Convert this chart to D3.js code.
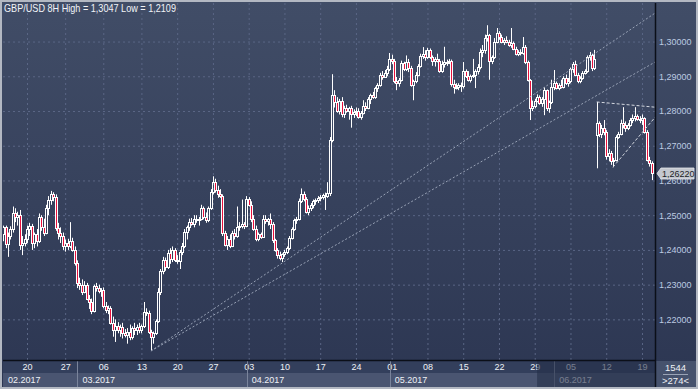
<!DOCTYPE html>
<html>
<head>
<meta charset="utf-8">
<script src="https://cdn.jsdelivr.net/npm/d3@7"></script>
<style>
  html, body { margin: 0; padding: 0; background: #2e3956; }
  svg { display: block; font-family: "Liberation Sans", Arial, sans-serif; }
</style>
</head>
<body>
<svg id="chart"></svg>
<script>
// GBP/USD 8H candles
const opens = [
  1.2445,1.2465,1.2418,1.2440,1.2460,1.2505,1.2495,1.2500,1.2415,1.2420,
  1.2430,1.2460,1.2470,1.2420,1.2445,1.2425,1.2495,1.2465,1.2450,1.2520,
  1.2545,1.2560,1.2552,1.2462,1.2448,1.2440,1.2410,1.2420,1.2410,1.2425,
  1.2400,1.2362,1.2305,1.2300,1.2280,1.2300,1.2260,1.2250,1.2225,1.2295,
  1.2290,1.2282,1.2285,1.2238,1.2228,1.2232,1.2190,1.2170,1.2182,1.2168,1.2178,
  1.2160,
  1.2155,1.2165,1.2150,1.2175,
  1.2170,1.2178,1.2168,1.2180,1.2222,1.2218,1.2165,1.2148,1.2160,1.2195,
  1.2280,1.2340,1.2370,1.2350,1.2390,1.2375,1.2400,1.2372,1.2368,1.2395,
  1.2410,1.2452,1.2465,1.2480,1.2475,1.2490,1.2485,1.2490,1.2520,1.2495,
  1.2485,1.2520,1.2568,1.2595,1.2572,1.2560,1.2556,1.2450,1.2415,1.2430,
  1.2412,1.2448,1.2440,1.2465,1.2470,1.2475,1.2470,1.2548,1.2530,1.2488,
  1.2460,1.2430,1.2445,1.2438,1.2490,1.2482,1.2488,1.2475,1.2428,1.2400,
  1.2385,1.2378,1.2388,1.2395,1.2405,1.2435,1.2460,1.2485,1.2490,1.2540,
  1.2560,1.2548,1.2510,1.2520,1.2528,1.2540,1.2545,
  1.2550,1.2552,
  1.2558,1.2555,1.2565,1.2716,1.2845,1.2825,1.2800,1.2830,1.2790,1.2810,
  1.2800,1.2808,1.2790,1.2798,1.2800,1.2782,1.2795,1.2815,1.2810,1.2835,
  1.2845,1.2840,1.2865,1.2875,1.2905,1.2898,1.2910,1.2922,
  1.2950,1.2945,1.2885,1.2880,1.2890,1.2938,1.2920,1.2940,1.2925,1.2875,1.2885,1.2905,1.2930,1.2958,1.2965,
  1.2955,1.2975,1.2955,1.2945,1.2950,1.2945,1.2915,1.2935,1.2940,1.2942,1.2945,1.2878,1.2870,1.2868,1.2875,
  1.2872,1.2915,1.2900,1.2890,1.2900,1.2905,1.2915,1.2928,1.2970,1.2975,1.3010,1.3018,1.2945,1.2955,1.3000,
  1.3025,1.3012,1.3000,1.3005,1.3000,1.2990,1.2995,1.2978,1.2965,1.2970,1.2968,1.2985,1.2940,1.2890,1.2810,
  1.2815,1.2830,1.2840,1.2822,1.2835,1.2860,1.2808,1.2825,1.2870,1.2880,1.2866,1.2875,1.2870,1.2895,1.2880,
  1.2885,1.2920,1.2935,1.2905,1.2885,1.2895,1.2910,1.2915,1.2955,1.2960,1.2925,
  1.2732,1.2765,1.2735,1.2750,
  1.2740,1.2670,1.2680,1.2655,1.2660,1.2725,1.2735,1.2765,1.2760,1.2750,1.2760,1.2775,1.2780,1.2785,1.2778,
  1.2775,1.2780,1.2740,1.2660,1.2650
];
const highs = [
  1.2470,1.2470,1.2450,1.2468,1.2525,1.2520,1.2510,1.2515,1.2440,1.2445,
  1.2470,1.2478,1.2475,1.2450,1.2460,1.2505,1.2500,1.2490,1.2530,1.2555,
  1.2570,1.2566,1.2560,1.2478,1.2465,1.2450,1.2430,1.2432,1.2480,1.2435,
  1.2410,1.2370,1.2320,1.2315,1.2310,1.2305,1.2270,1.2260,1.2300,1.2305,
  1.2300,1.2290,1.2292,1.2250,1.2240,1.2238,1.2208,1.2200,1.2192,1.2185,1.2190,
  1.2172,
  1.2175,1.2185,1.2180,1.2190,
  1.2185,1.2190,1.2185,1.2250,1.2232,1.2225,1.2170,1.2165,1.2200,1.2290,
  1.2345,1.2380,1.2378,1.2400,1.2405,1.2410,1.2405,1.2385,1.2400,1.2420,
  1.2460,1.2470,1.2490,1.2492,1.2500,1.2500,1.2495,1.2530,1.2525,1.2508,
  1.2525,1.2575,1.2612,1.2605,1.2585,1.2575,1.2560,1.2455,1.2440,1.2445,
  1.2455,1.2460,1.2525,1.2480,1.2545,1.2480,1.2555,1.2552,1.2540,1.2500,
  1.2470,1.2450,1.2450,1.2500,1.2500,1.2492,1.2505,1.2480,1.2432,1.2405,
  1.2395,1.2390,1.2400,1.2410,1.2440,1.2465,1.2490,1.2495,1.2548,1.2577,
  1.2568,1.2552,1.2528,1.2535,1.2545,1.2548,1.2555,
  1.2558,1.2562,
  1.2565,1.2595,1.2725,1.2906,1.2860,1.2840,1.2835,1.2840,1.2815,1.2818,
  1.2812,1.2815,1.2805,1.2810,1.2808,1.2800,1.2831,1.2825,1.2840,1.2850,
  1.2855,1.2870,1.2880,1.2910,1.2915,1.2918,1.2930,1.2967,
  1.2962,1.2950,1.2898,1.2895,1.2945,1.2942,1.2960,1.2950,1.2930,1.2890,1.2912,1.2935,1.2965,1.2984,1.2975,
  1.2982,1.2980,1.2960,1.2955,1.2965,1.2950,1.2945,1.2985,1.2948,1.2950,1.2948,1.2890,1.2880,1.2880,1.2882,
  1.2941,1.2920,1.2915,1.2905,1.2950,1.2920,1.2935,1.2980,1.2990,1.3020,1.3047,1.3022,1.2960,1.3010,1.3039,
  1.3030,1.3020,1.3010,1.3015,1.3005,1.3039,1.3000,1.2985,1.2975,1.2978,1.3013,1.2990,1.2945,1.2892,1.2830,
  1.2835,1.2848,1.2845,1.2840,1.2868,1.2862,1.2830,1.2890,1.2918,1.2885,1.2880,1.2890,1.2900,1.2905,1.2895,
  1.2925,1.2941,1.2945,1.2910,1.2900,1.2915,1.2920,1.2960,1.2970,1.2965,1.2976,
  1.2826,1.2770,1.2760,1.2774,
  1.2745,1.2690,1.2685,1.2665,1.2730,1.2740,1.2775,1.2811,1.2770,1.2765,1.2780,1.2790,1.2811,1.2790,1.2785,
  1.2790,1.2782,1.2745,1.2668,1.2655
];
const lows = [
  1.2425,1.2405,1.2380,1.2430,1.2450,1.2480,1.2470,1.2400,1.2385,1.2410,
  1.2420,1.2440,1.2400,1.2405,1.2410,1.2420,1.2455,1.2440,1.2445,1.2500,
  1.2530,1.2540,1.2455,1.2430,1.2420,1.2400,1.2395,1.2400,1.2405,1.2395,
  1.2355,1.2290,1.2285,1.2270,1.2275,1.2255,1.2230,1.2215,1.2220,1.2280,
  1.2275,1.2265,1.2232,1.2218,1.2215,1.2185,1.2150,1.2135,1.2160,1.2150,1.2145,
  1.2148,
  1.2130,1.2140,1.2142,1.2155,
  1.2155,1.2160,1.2160,1.2175,1.2210,1.2158,1.2109,1.2130,1.2155,1.2190,
  1.2270,1.2330,1.2340,1.2345,1.2360,1.2365,1.2365,1.2360,1.2345,1.2385,
  1.2405,1.2430,1.2455,1.2470,1.2465,1.2478,1.2470,1.2485,1.2488,1.2478,
  1.2480,1.2515,1.2560,1.2565,1.2550,1.2550,1.2440,1.2410,1.2400,1.2405,
  1.2408,1.2430,1.2435,1.2455,1.2462,1.2460,1.2465,1.2525,1.2480,1.2455,
  1.2425,1.2425,1.2432,1.2435,1.2475,1.2470,1.2460,1.2420,1.2395,1.2375,
  1.2370,1.2365,1.2380,1.2388,1.2400,1.2430,1.2455,1.2475,1.2485,1.2535,
  1.2540,1.2505,1.2500,1.2512,1.2520,1.2530,1.2535,
  1.2540,1.2545,
  1.2515,1.2550,1.2555,1.2710,1.2810,1.2795,1.2790,1.2782,1.2780,1.2795,
  1.2775,1.2752,1.2780,1.2785,1.2778,1.2775,1.2790,1.2800,1.2805,1.2820,
  1.2835,1.2835,1.2855,1.2870,1.2890,1.2895,1.2900,1.2915,
  1.2935,1.2880,1.2860,1.2870,1.2885,1.2915,1.2915,1.2912,1.2870,1.2831,1.2880,1.2900,1.2925,1.2950,1.2945,
  1.2950,1.2950,1.2930,1.2928,1.2940,1.2910,1.2910,1.2925,1.2930,1.2935,1.2870,1.2850,1.2862,1.2860,1.2855,
  1.2865,1.2895,1.2885,1.2882,1.2895,1.2866,1.2905,1.2920,1.2955,1.2965,1.3000,1.2890,1.2935,1.2950,1.2995,
  1.3005,1.2995,1.2990,1.2995,1.2985,1.2982,1.2975,1.2960,1.2958,1.2960,1.2962,1.2935,1.2885,1.2774,1.2800,
  1.2808,1.2825,1.2818,1.2812,1.2788,1.2800,1.2795,1.2820,1.2860,1.2862,1.2860,1.2865,1.2865,1.2875,1.2870,
  1.2880,1.2910,1.2900,1.2880,1.2880,1.2890,1.2905,1.2910,1.2945,1.2915,1.2918,
  1.2635,1.2725,1.2722,1.2730,
  1.2660,1.2655,1.2645,1.2638,1.2655,1.2720,1.2730,1.2750,1.2740,1.2745,1.2755,1.2765,1.2770,1.2772,1.2765,
  1.2760,1.2735,1.2655,1.2640,1.2601
];
const closes = [
  1.2465,1.2418,1.2440,1.2460,1.2505,1.2495,1.2500,1.2415,1.2420,1.2430,
  1.2460,1.2470,1.2420,1.2445,1.2425,1.2495,1.2465,1.2450,1.2520,1.2545,
  1.2560,1.2552,1.2462,1.2448,1.2440,1.2410,1.2420,1.2410,1.2425,1.2400,
  1.2362,1.2305,1.2300,1.2280,1.2300,1.2260,1.2250,1.2225,1.2295,1.2290,
  1.2282,1.2285,1.2238,1.2228,1.2232,1.2190,1.2170,1.2182,1.2168,1.2178,1.2160,
  1.2155,
  1.2165,1.2150,1.2175,1.2170,
  1.2178,1.2168,1.2180,1.2222,1.2218,1.2165,1.2148,1.2160,1.2195,1.2280,
  1.2340,1.2370,1.2350,1.2390,1.2375,1.2400,1.2372,1.2368,1.2395,1.2410,
  1.2452,1.2465,1.2480,1.2475,1.2490,1.2485,1.2490,1.2520,1.2495,1.2485,
  1.2520,1.2568,1.2595,1.2572,1.2560,1.2556,1.2450,1.2415,1.2430,1.2412,
  1.2448,1.2440,1.2465,1.2470,1.2475,1.2470,1.2548,1.2530,1.2488,1.2460,
  1.2430,1.2445,1.2438,1.2490,1.2482,1.2488,1.2475,1.2428,1.2400,1.2385,
  1.2378,1.2388,1.2395,1.2405,1.2435,1.2460,1.2485,1.2490,1.2540,1.2560,
  1.2548,1.2510,1.2520,1.2528,1.2540,1.2545,1.2550,
  1.2552,1.2558,
  1.2555,1.2565,1.2716,1.2845,1.2825,1.2800,1.2830,1.2790,1.2810,1.2800,
  1.2808,1.2790,1.2798,1.2800,1.2782,1.2795,1.2815,1.2810,1.2835,1.2845,
  1.2840,1.2865,1.2875,1.2905,1.2898,1.2910,1.2922,1.2950,
  1.2945,1.2885,1.2880,1.2890,1.2938,1.2920,1.2940,1.2925,1.2875,1.2885,1.2905,1.2930,1.2958,1.2965,1.2955,
  1.2975,1.2955,1.2945,1.2950,1.2945,1.2915,1.2935,1.2940,1.2942,1.2945,1.2878,1.2870,1.2868,1.2875,1.2872,
  1.2915,1.2900,1.2890,1.2900,1.2905,1.2915,1.2928,1.2970,1.2975,1.3010,1.3018,1.2945,1.2955,1.3000,1.3025,
  1.3012,1.3000,1.3005,1.3000,1.2990,1.2995,1.2978,1.2965,1.2970,1.2968,1.2985,1.2940,1.2890,1.2810,1.2815,
  1.2830,1.2840,1.2822,1.2835,1.2860,1.2808,1.2825,1.2870,1.2880,1.2866,1.2875,1.2870,1.2895,1.2880,1.2885,
  1.2920,1.2935,1.2905,1.2885,1.2895,1.2910,1.2915,1.2955,1.2960,1.2925,1.2950,
  1.2765,1.2735,1.2750,1.2740,
  1.2670,1.2680,1.2655,1.2660,1.2725,1.2735,1.2765,1.2760,1.2750,1.2760,1.2775,1.2780,1.2785,1.2778,1.2775,
  1.2780,1.2740,1.2660,1.2650,1.2622
];

const yTicks = [1.22, 1.23, 1.24, 1.25, 1.26, 1.27, 1.28, 1.29, 1.30];
const title = 'GBP/USD 8H High = 1,3047 Low = 1,2109';
const lastPrice = 1.2622;
const barInfo = ['1544', '>274<'];

// trend lines drawn on the chart: [bar, price, bar, price]
const trendLines = [
  [62, 1.2109, 273.5, 1.3082],
  [62, 1.2109, 273.5, 1.2941]
];
const triangleLines = [
  [249, 1.2826, 273.5, 1.2811],
  [255.8, 1.2638, 273.5, 1.2782]
];
const shadeFromBar = 224;

// bar times: 8H bars, Sunday evening bar until mid March
const firstBar = Date.UTC(2017, 1, 15, 0);
const sundayBarsUntil = Date.UTC(2017, 2, 13);

const W = 698, H = 389;
const plot = { left: 3, right: 655, top: 3, bottom: 360 };
const plotW = plot.right - plot.left, plotH = plot.bottom - plot.top;
const font = '"Liberation Sans", Arial, sans-serif';

const N = closes.length;
const bars = d3.range(N).map(i => ({ i, o: opens[i], h: highs[i], l: lows[i], c: closes[i] }));

const dates = [];
for (let t = firstBar; dates.length < N; t += 8 * 3600e3) {
  const d = new Date(t), wd = d.getUTCDay();
  if ((wd >= 1 && wd <= 5) || (wd === 0 && d.getUTCHours() === 16 && t < sundayBarsUntil)) dates.push(d);
}
const mondays = d3.range(N).filter(i => dates[i].getUTCDay() === 1 && dates[i].getUTCHours() === 0);
const monthStarts = d3.range(N).filter(i => i === 0 || dates[i].getUTCMonth() !== dates[i - 1].getUTCMonth());
const fmtDay = d3.utcFormat('%d');
const fmtMonth = d3.utcFormat('%m.%Y');
const fmtPrice = d3.formatLocale({ decimal: ',', thousands: '.', grouping: [3], currency: ['', ''] }).format('.5f');

const x = d3.scaleLinear().domain([-0.07, N + 0.46]).range([plot.left, plot.right]);
const y = d3.scaleLinear().domain([1.2083, 1.3111]).range([plot.bottom, plot.top]);

const svg = d3.select('#chart').attr('width', W).attr('height', H);
const defs = svg.append('defs');
const grad = defs.append('linearGradient').attr('id', 'bg')
  .attr('x1', 0).attr('y1', 0).attr('x2', 0).attr('y2', 1);
grad.append('stop').attr('offset', '0%').attr('stop-color', '#414d67');
grad.append('stop').attr('offset', '100%').attr('stop-color', '#2c3652');
defs.append('clipPath').attr('id', 'plotclip').append('rect')
  .attr('x', plot.left).attr('y', plot.top).attr('width', plotW).attr('height', plotH);

svg.append('rect').attr('width', W).attr('height', H).attr('fill', 'url(#bg)');

// grid
const gridColor = '#5a6685';
svg.append('g')
  .attr('transform', `translate(${plot.left},0)`)
  .call(d3.axisLeft(y).tickValues(yTicks).tickSize(-plotW).tickFormat(''))
  .call(g => g.select('.domain').remove())
  .call(g => g.selectAll('line').attr('stroke', gridColor).attr('stroke-dasharray', '2,3'));
svg.append('g')
  .attr('transform', `translate(0,${plot.bottom})`)
  .call(d3.axisBottom(x).tickValues(mondays).tickSize(-plotH).tickFormat(''))
  .call(g => g.select('.domain').remove())
  .call(g => g.selectAll('line').attr('stroke', gridColor).attr('stroke-dasharray', '2,3'));

// candles: hollow white bodies for up bars, red bodies with white outline for down bars
const candles = svg.append('g').attr('clip-path', 'url(#plotclip)');
const cx = d => Math.round(x(d.i)) + 0.5;
const bodyTop = d => Math.round(y(Math.max(d.o, d.c))) + 0.5;
const bodyBot = d => Math.max(bodyTop(d) + 1, Math.round(y(Math.min(d.o, d.c))) + 0.5);
candles.selectAll('.wick-hi')
  .data(bars)
  .enter()
  .append('line')
  .attr('class', 'wick-hi')
  .attr('x1', cx).attr('x2', cx)
  .attr('y1', d => y(d.h)).attr('y2', bodyTop)
  .attr('stroke', '#ffffff');
candles.selectAll('.wick-lo')
  .data(bars)
  .enter()
  .append('line')
  .attr('class', 'wick-lo')
  .attr('x1', cx).attr('x2', cx)
  .attr('y1', bodyBot).attr('y2', d => y(d.l))
  .attr('stroke', '#ffffff');
candles.selectAll('.body')
  .data(bars)
  .enter()
  .append('rect')
  .attr('class', 'body')
  .attr('x', d => cx(d) - 1)
  .attr('width', 2)
  .attr('y', bodyTop)
  .attr('height', d => bodyBot(d) - bodyTop(d))
  .attr('fill', d => d.c >= d.o ? 'none' : '#e8103c')
  .attr('stroke', '#ffffff')
  .attr('stroke-width', 1);

// trend lines
const lines = svg.append('g').attr('clip-path', 'url(#plotclip)');
lines.selectAll('.trend')
  .data(trendLines)
  .enter()
  .append('line')
  .attr('class', 'trend')
  .attr('x1', d => x(d[0])).attr('y1', d => y(d[1]))
  .attr('x2', d => x(d[2])).attr('y2', d => y(d[3]))
  .attr('stroke', '#98a2b6').attr('stroke-width', 1).attr('stroke-dasharray', '2,2');
lines.selectAll('.tri')
  .data(triangleLines)
  .enter()
  .append('line')
  .attr('class', 'tri')
  .attr('x1', d => x(d[0])).attr('y1', d => y(d[1]))
  .attr('x2', d => x(d[2])).attr('y2', d => y(d[3]))
  .attr('stroke', '#d4d8e0').attr('stroke-width', 1).attr('stroke-dasharray', '3,2');

// time axis area
svg.append('rect').attr('x', plot.left).attr('y', plot.bottom + 1)
  .attr('width', plotW).attr('height', 12).attr('fill', '#333f5c');
svg.append('rect').attr('x', plot.left).attr('y', plot.bottom + 13)
  .attr('width', plotW).attr('height', 14).attr('fill', '#4a5571');

svg.append('g')
  .attr('transform', `translate(0,${plot.bottom + 1})`)
  .call(d3.axisBottom(x).tickValues(mondays).tickSize(0).tickPadding(3).tickFormat(i => fmtDay(dates[i])))
  .call(g => g.select('.domain').remove())
  .call(g => g.selectAll('text').attr('fill', '#eef1f6').style('font-size', '9px').style('font-family', font));

const months = svg.append('g');
months.selectAll('line')
  .data(monthStarts.slice(1))
  .enter()
  .append('line')
  .attr('x1', d => Math.round(x(d)) - 1.5).attr('x2', d => Math.round(x(d)) - 1.5)
  .attr('y1', plot.bottom + 1).attr('y2', H - 2)
  .attr('stroke', '#7a849b').attr('stroke-width', 1);
months.selectAll('text')
  .data(monthStarts)
  .enter()
  .append('text')
  .attr('x', d => (d === 0 ? plot.left + 5 : x(d) + 3))
  .attr('y', plot.bottom + 23)
  .attr('fill', '#eef1f6')
  .style('font-size', '9px')
  .text(d => fmtMonth(dates[d]));

// dimmed part of the time axis
svg.append('rect')
  .attr('x', x(shadeFromBar)).attr('y', plot.bottom + 1)
  .attr('width', plot.right - x(shadeFromBar)).attr('height', H - plot.bottom - 3)
  .attr('fill', '#242e48').attr('opacity', 0.6);

// price axis
svg.append('g')
  .attr('transform', `translate(${plot.right},0)`)
  .call(d3.axisRight(y).tickValues(yTicks).tickSize(0).tickPadding(4).tickFormat(fmtPrice))
  .call(g => g.select('.domain').remove())
  .call(g => g.selectAll('text').attr('fill', '#bccbe2').style('font-size', '9px').style('font-family', font));

// last price marker
const py = Math.round(y(lastPrice)) + 0.5;
svg.append('path')
  .attr('d', `M${plot.right + 2},${py} L${plot.right + 6},${py - 5.5} L${W - 4},${py - 5.5} L${W - 4},${py + 5.5} L${plot.right + 6},${py + 5.5} Z`)
  .attr('fill', '#c3c7cf').attr('stroke', '#e6e8ec').attr('stroke-width', 0.8);
svg.append('text')
  .attr('x', plot.right + 7).attr('y', py + 3.3)
  .attr('fill', '#1c1f26').style('font-size', '9px')
  .text(fmtPrice(lastPrice));

// bottom right cell
svg.append('rect').attr('x', plot.right + 1).attr('y', plot.bottom + 1)
  .attr('width', W - plot.right - 3).attr('height', H - plot.bottom - 3).attr('fill', '#46526d');
svg.append('line')
  .attr('x1', plot.right + 8).attr('x2', W - 10)
  .attr('y1', plot.bottom + 14.5).attr('y2', plot.bottom + 14.5)
  .attr('stroke', '#9aa3b5');
svg.append('g').selectAll('text')
  .data(barInfo)
  .enter()
  .append('text')
  .attr('x', (plot.right + W) / 2 - 1)
  .attr('y', (d, k) => plot.bottom + 11 + k * 13)
  .attr('text-anchor', 'middle')
  .attr('fill', '#eef1f6')
  .style('font-size', '9.5px')
  .text(d => d);

// frame lines
svg.append('line').attr('x1', plot.left).attr('x2', plot.right)
  .attr('y1', plot.bottom + 0.5).attr('y2', plot.bottom + 0.5)
  .attr('stroke', '#0b0f18').attr('stroke-width', 1.5);
svg.append('line').attr('x1', plot.right + 0.5).attr('x2', plot.right + 0.5)
  .attr('y1', plot.top).attr('y2', H - 2)
  .attr('stroke', '#0b0f18').attr('stroke-width', 1.5);
svg.append('rect').attr('x', 1).attr('y', 1).attr('width', W - 2).attr('height', H - 2)
  .attr('fill', 'none').attr('stroke', '#b3b8c2').attr('stroke-width', 2);

// title
svg.append('text')
  .attr('x', 4).attr('y', 12)
  .attr('fill', '#f2f4f8')
  .style('font-size', '10.5px')
  .attr('textLength', 172)
  .attr('lengthAdjust', 'spacingAndGlyphs')
  .text(title);
</script>
</body>
</html>
